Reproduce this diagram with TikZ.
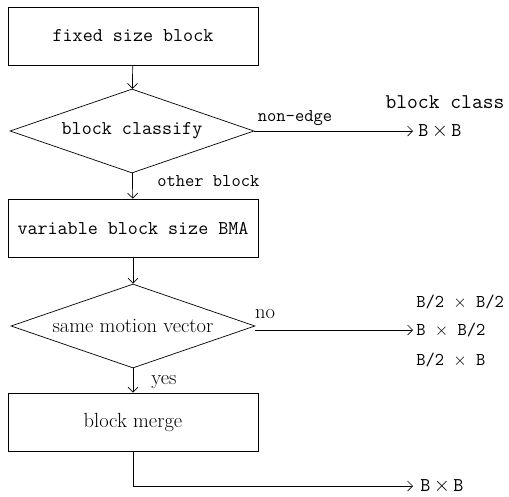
\documentclass[tikz,border=0pt]{standalone}
\usepackage{fontspec}
\usetikzlibrary{positioning}
\usetikzlibrary{arrows,arrows.meta,shapes}
\usetikzlibrary{calc}
\tikzstyle{procbox}=[rectangle,draw,fill=white,minimum width=250pt,minimum height=58pt,inner sep=0pt]
\tikzstyle{decision}=[diamond,draw,fill=white,aspect=2.9,minimum width=244pt,minimum height=84pt,inner sep=0pt]
\tikzstyle{mono}=[font=\ttfamily\fontsize{19.5}{21}\selectfont]
\tikzstyle{smallmono}=[font=\ttfamily\fontsize{18}{20}\selectfont]
\tikzstyle{roman}=[font=\fontsize{20.5}{22}\selectfont]
\tikzstyle{edge} = [draw,-{Straight Barb[length=5pt,width=10pt]}]
\tikzstyle{weight} = [inner sep=1pt]

\begin{document}
\begin{tikzpicture}[x=1pt,y=-1pt,line width=0.7pt]
    \useasboundingbox (0,0) rectangle (509,496);

    % blocks
    \foreach \pos/\name/\style/\label in {{(133,36)/fixed/mono/fixed size block}, {(133,228)/variable/mono/variable block size BMA}, {(133,422)/merge/roman/block merge}}
        \node[procbox,\style] (\name) at \pos {\label};

    \foreach \pos/\name/\style/\label in {{(132,131)/classify/mono/block classify}, {(133,326)/motion/roman/same motion vector}}
        \node[decision,\style] (\name) at \pos {\label};

    % free ends
    \coordinate (nonedge) at (413,131);
    \coordinate (split) at (413,330);
    \coordinate (turn) at (133,486);
    \coordinate (whole) at (413,486);

    \foreach \source/\dest in {fixed/classify, classify/variable, variable/motion, motion/merge}
        \path[edge] (\source) -- (\dest);
    \path[edge] (classify.east) -- (nonedge);
    \path[edge] (motion.east |- split) -- (split);
    \path[edge] (merge.south) -- (turn) -- (whole);

    % labels
    \node[weight,smallmono] (lnonedge) at (295,118) {non-edge};
    \node[weight,smallmono,anchor=west] (lother) at (156,181) {other block};
    \node[weight,roman] (lno) at (265,314) {no};
    \node[weight,roman,anchor=west] (lyes) at (150,382) {yes};

    \node[weight,font=\ttfamily\fontsize{21}{23}\selectfont] (lclass) at (445,102) {block class};
    \node[weight,mono,anchor=west] (bb1) at (417,131) {B$\,\times\,$B};
    \node[weight,smallmono,anchor=west] (bhh) at (415,302) {B/2 $\times$ B/2};
    \node[weight,smallmono,anchor=west] (bbh) at (415,330) {B $\times$ B/2};
    \node[weight,smallmono,anchor=west] (bhb) at (415,360) {B/2 $\times$ B};
    \node[weight,mono,anchor=west] (bb2) at (419,486) {B$\,\times\,$B};
\end{tikzpicture}
\end{document}
